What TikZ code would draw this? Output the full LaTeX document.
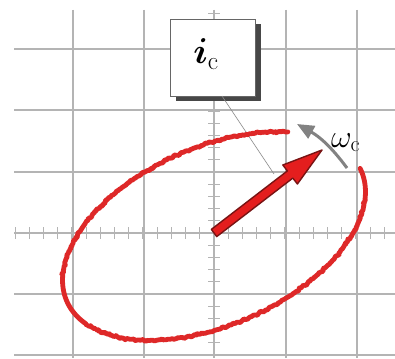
\RequirePackage{fix-cm}
\documentclass[tikz,border=0pt]{standalone}
\usepackage{amsmath}
\usetikzlibrary{arrows.meta,shadows,decorations.pathmorphing}
\definecolor{gridgray}{RGB}{180,180,180}
\definecolor{tracered}{RGB}{222,40,40}
\definecolor{arrowred}{RGB}{228,30,30}
\definecolor{arrowdark}{RGB}{120,20,20}
\definecolor{omegagray}{RGB}{130,130,130}
\tikzset{
  gridline/.style={draw=gridgray, line width=1.6pt},
  tickline/.style={draw=gridgray, line width=1.3pt},
  labelbox/.style={draw=black!60, line width=0.8pt, fill=white, minimum width=85pt, minimum height=77pt,
    drop shadow={shadow xshift=6pt, shadow yshift=-5pt, fill=black!72, opacity=1}},
  leader/.style={draw=black!45, line width=0.6pt},
  trace/.style={draw=tracered, line width=4.8pt, line cap=round, line join=round,
    decorate, decoration={random steps, segment length=1.5pt, amplitude=1.2pt}},
  bigarrow/.style={fill=arrowred, draw=arrowdark, line width=1.4pt, line join=round},
  rotarrow/.style={draw=omegagray, line width=3pt, -{Triangle[length=17pt,width=14pt]}},
  biglabel/.style={font=\fontsize{32}{38}\selectfont, inner sep=0pt},
  boxlabel/.style={font=\fontsize{36}{42}\selectfont, inner sep=0pt}
}
\begin{document}
\begin{tikzpicture}[x=1pt,y=-1pt]
\pgfmathsetseed{7}
\useasboundingbox (0,0) rectangle (395,358);
\fill[white] (0,0) rectangle (395,358);
% grid
\foreach \gx in {73,144,286,357} \draw[gridline] (\gx,10) -- (\gx,358);
\foreach \gy in {49,110,172,294,355} \draw[gridline] (14,\gy) -- (395,\gy);
% axes
\draw[gridline] (214,10) -- (214,358);
\draw[gridline] (14,233) -- (395,233);
\foreach \k in {-14,...,12} \draw[tickline] ({214+\k*14.2},227) -- ({214+\k*14.2},239);
\foreach \k in {-18,...,10} \draw[tickline] (208,{233+\k*12.2}) -- (220,{233+\k*12.2});
% label box
\node[labelbox] (box) at (212.5,57.5) {};
\node[boxlabel] (ic) at (206,54) {$\boldsymbol{i}_{\mathrm{c}}$};
\coordinate (lead) at (274,174);
\draw[leader] (222,96) -- (lead);
% trace
\draw[trace] plot[domain=47:361.5, samples=240, variable=\t]
  ({214+161*cos(\t)*cos(24)-89*sin(\t)*sin(24)},
   {236-(161*cos(\t)*sin(24)+89*sin(\t)*cos(24))});
% red current vector
\coordinate (O) at (214,233);
\coordinate (tip) at (322,150);
\draw[bigarrow] (211.3,229.4) -- (287.4,170.9) -- (282.8,165.0) -- (tip)
  -- (297.4,184.0) -- (292.8,178.1) -- (216.7,236.6) -- cycle;
% rotation arrow
\coordinate (rs) at (347,168);
\coordinate (re) at (297,124);
\draw[rotarrow] (rs) to[bend right=12] (re);
\node[biglabel, anchor=base west] (omega) at (331,147) {$\omega_{\mathrm{c}}$};
\end{tikzpicture}
\end{document}
